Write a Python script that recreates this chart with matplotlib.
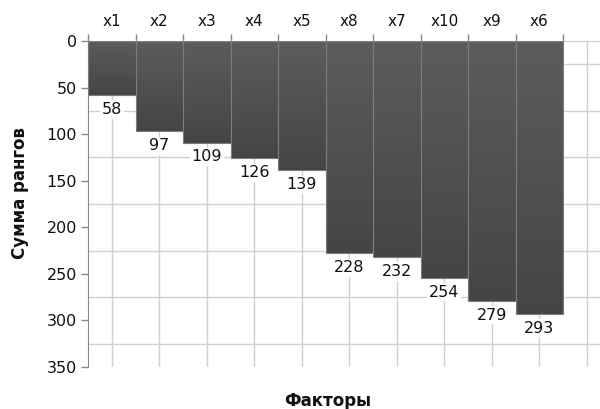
import numpy as np
import matplotlib
matplotlib.use('Agg')
import matplotlib.pyplot as plt

# data
factors = ['x1', 'x2', 'x3', 'x4', 'x5', 'x8', 'x7', 'x10', 'x9', 'x6']
rank_sums = [58, 97, 109, 126, 139, 228, 232, 254, 279, 293]
y_ticks = [0, 50, 100, 150, 200, 250, 300, 350]

plt.rcParams['font.family'] = 'DejaVu Sans'

fig = plt.figure(figsize=(6, 4.09), dpi=100)
ax = fig.add_axes([88/600, 42/409, 522.5/600, 326/409])

n_slots = len(factors) + 1  # one empty band on the right, clipped by the figure edge

# gradient strip: lighter at top, darker at bottom
shade = np.linspace(0x5c, 0x45, 64) / 255.
grad = np.repeat(shade[:, None], 3, axis=1)[:, None, :]

for i, v in enumerate(rank_sums):
    ax.imshow(grad, extent=(i - 0.5, i + 0.5, v, 0), origin='upper',
              aspect='auto', interpolation='bilinear', zorder=2)
    ax.bar(i, v, width=1.0, bottom=0, facecolor='none',
           edgecolor='#7c7c7c', linewidth=0.8, zorder=3)
    ax.annotate(str(v), (i, v), xytext=(0, -5), textcoords='offset points',
                ha='center', va='top', fontsize=11.5, color='#111111', zorder=4,
                bbox=dict(boxstyle='square,pad=0.1', fc='white', ec='none'))

ax.set_xlim(-0.5, n_slots - 0.5)
ax.set_ylim(350, 0)

# x axis on top: labels at band centers, ticks at band edges
ax.xaxis.tick_top()
ax.set_xticks(range(n_slots))
ax.set_xticklabels(factors + [''])
ax.set_xticks(np.arange(-0.5, len(factors) + 0.5), minor=True)
ax.tick_params(axis='x', which='major', length=0, pad=9, labelsize=11, labelcolor='#111111')
ax.tick_params(axis='x', which='minor', length=5, width=1, color='#888888')

ax.set_yticks(y_ticks)
ax.set_yticks(np.arange(25, 350, 50), minor=True)
ax.tick_params(axis='y', which='major', length=5, width=1, color='#888888',
               labelsize=11.5, labelcolor='#111111', pad=3)
ax.tick_params(axis='y', which='minor', length=0)

ax.grid(True, axis='x', which='major', color='#d0d0d0', linewidth=1)
ax.grid(True, axis='y', which='minor', color='#d0d0d0', linewidth=1)
ax.set_axisbelow(True)

for side in ['bottom', 'right']:
    ax.spines[side].set_visible(False)
ax.spines['left'].set_color('#888888')
ax.spines['top'].set_color('#d0d0d0')

fig.text(20/600, 1 - 193/409, 'Сумма рангов', rotation=90, ha='center', va='center',
         fontsize=12, fontweight='bold', color='#111111')
fig.text(328/600, 1 - 401/409, 'Факторы', ha='center', va='center',
         fontsize=12, fontweight='bold', color='#111111')

fig.savefig('out.png', dpi=100)
